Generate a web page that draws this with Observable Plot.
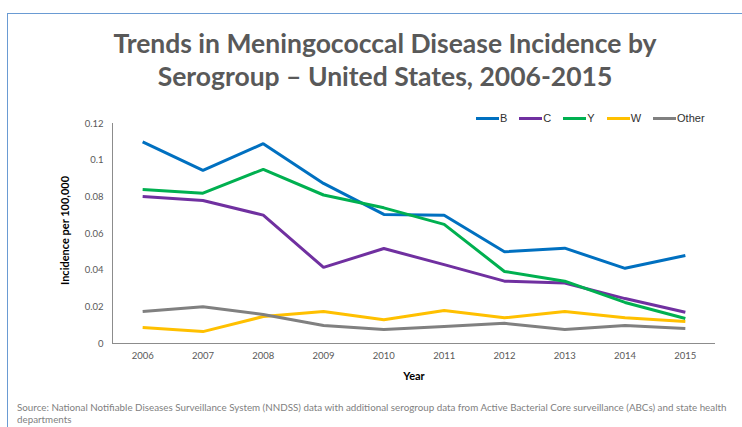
<!DOCTYPE html>
<html><head><meta charset="utf-8">
<script src="https://cdn.jsdelivr.net/npm/d3@7"></script>
<script src="https://cdn.jsdelivr.net/npm/@observablehq/plot@0.6"></script>
<style>
html,body{margin:0;padding:0;background:#fff;}
#wrap{position:relative;width:742px;height:427px;overflow:hidden;font-family:Lato,"Open Sans",sans-serif;}
#frame{position:absolute;left:7px;top:13px;width:760px;height:440px;border-left:1.5px solid #6A9BD3;border-top:1.5px solid #6A9BD3;}
#title{position:absolute;left:0;width:770px;top:27px;text-align:center;font-size:26.5px;line-height:33px;font-weight:700;color:#595959;font-family:Lato,"Open Sans",sans-serif;}
#chart{position:absolute;left:0;top:100px;}
#legend{position:absolute;top:112px;left:476px;font-family:"Liberation Sans",Arial,sans-serif;font-size:11px;color:#303030;display:flex;align-items:center;}
#legend .it{display:flex;align-items:center;margin-right:12px;}
#legend .sw{width:23px;height:3px;margin-right:1px;}
#source{position:absolute;left:17px;top:401px;width:724px;font-size:9.8px;line-height:12px;color:#7f7f7f;font-family:Lato,"Open Sans",sans-serif;}
</style></head>
<body><div id="wrap">
<div id="frame"></div>
<div id="title">Trends in Meningococcal Disease Incidence by<br>Serogroup – United States, 2006-2015</div>
<div id="chart"></div>
<div id="legend"></div>
<div id="source">Source: National Notifiable Diseases Surveillance System (NNDSS) data with additional serogroup data from Active Bacterial Core surveillance (ABCs) and state health departments</div>
</div>
<script>
const years = [2006, 2007, 2008, 2009, 2010, 2011, 2012, 2013, 2014, 2015];
const serogroups = ["B", "C", "Y", "W", "Other"];
const colors = ["#0070C0", "#7030A0", "#00B050", "#FFC000", "#808080"];
const B = [0.110, 0.0944, 0.109, 0.0873, 0.0704, 0.0700, 0.050, 0.052, 0.041, 0.048];
const C = [0.0802, 0.078, 0.070, 0.0415, 0.0518, 0.043, 0.034, 0.033, 0.0245, 0.017];
const Y = [0.084, 0.082, 0.095, 0.081, 0.074, 0.065, 0.0393, 0.034, 0.0224, 0.0136];
const W = [0.0087, 0.0065, 0.0147, 0.0175, 0.013, 0.018, 0.014, 0.0175, 0.014, 0.012];
const Other = [0.0175, 0.020, 0.0158, 0.0098, 0.0076, 0.0093, 0.011, 0.0076, 0.0098, 0.0082];
const yTicks = [0, 0.02, 0.04, 0.06, 0.08, 0.1, 0.12];
const yTickLabels = ["0", "0.02", "0.04", "0.06", "0.08", "0.1", "0.12"];

const seriesVals = {B, C, Y, W, Other};
const data = [];
serogroups.forEach(s => years.forEach((yr, i) => data.push({group: s, year: yr, value: seriesVals[s][i]})));

const chart = Plot.plot({
  width: 742, height: 295,
  marginLeft: 112, marginRight: 27, marginTop: 23, marginBottom: 52,
  style: {fontFamily: "Lato, 'Open Sans', sans-serif", fontSize: "9.5px", color: "#595959", background: "transparent"},
  x: {domain: [2005.5, 2015.5], ticks: years, tickFormat: d => String(d), tickSize: 0, tickPadding: 9, label: null},
  y: {domain: [0, 0.12], ticks: yTicks, tickFormat: d => yTickLabels[yTicks.indexOf(d)], tickSize: 0, tickPadding: 9, label: null},
  color: {domain: serogroups, range: colors},
  marks: [
    Plot.ruleX([2005.5], {stroke: "#8c8c8c", strokeWidth: 1}),
    Plot.ruleY([0], {stroke: "#8c8c8c", strokeWidth: 1}),
    Plot.line(data, {x: "year", y: "value", z: "group", stroke: "group", strokeWidth: 3, strokeLinejoin: "miter", strokeLinecap: "butt"}),
    Plot.text(["Year"], {frameAnchor: "bottom", textAnchor: "middle", lineAnchor: "middle", dy: 33, fontWeight: "bold", fontSize: 11, fill: "#000"}),
    Plot.text(["Incidence per 100,000"], {frameAnchor: "left", textAnchor: "middle", lineAnchor: "middle", dx: -47, dy: -3, rotate: -90, fontWeight: "bold", fontSize: 11, fill: "#000"})
  ]
});
document.getElementById("chart").appendChild(chart);

const leg = document.getElementById("legend");
serogroups.forEach((s, i) => {
  const it = document.createElement("div"); it.className = "it";
  const sw = document.createElement("div"); sw.className = "sw"; sw.style.background = colors[i];
  const t = document.createElement("span"); t.textContent = s;
  it.appendChild(sw); it.appendChild(t); leg.appendChild(it);
});
</script>
</body></html>
